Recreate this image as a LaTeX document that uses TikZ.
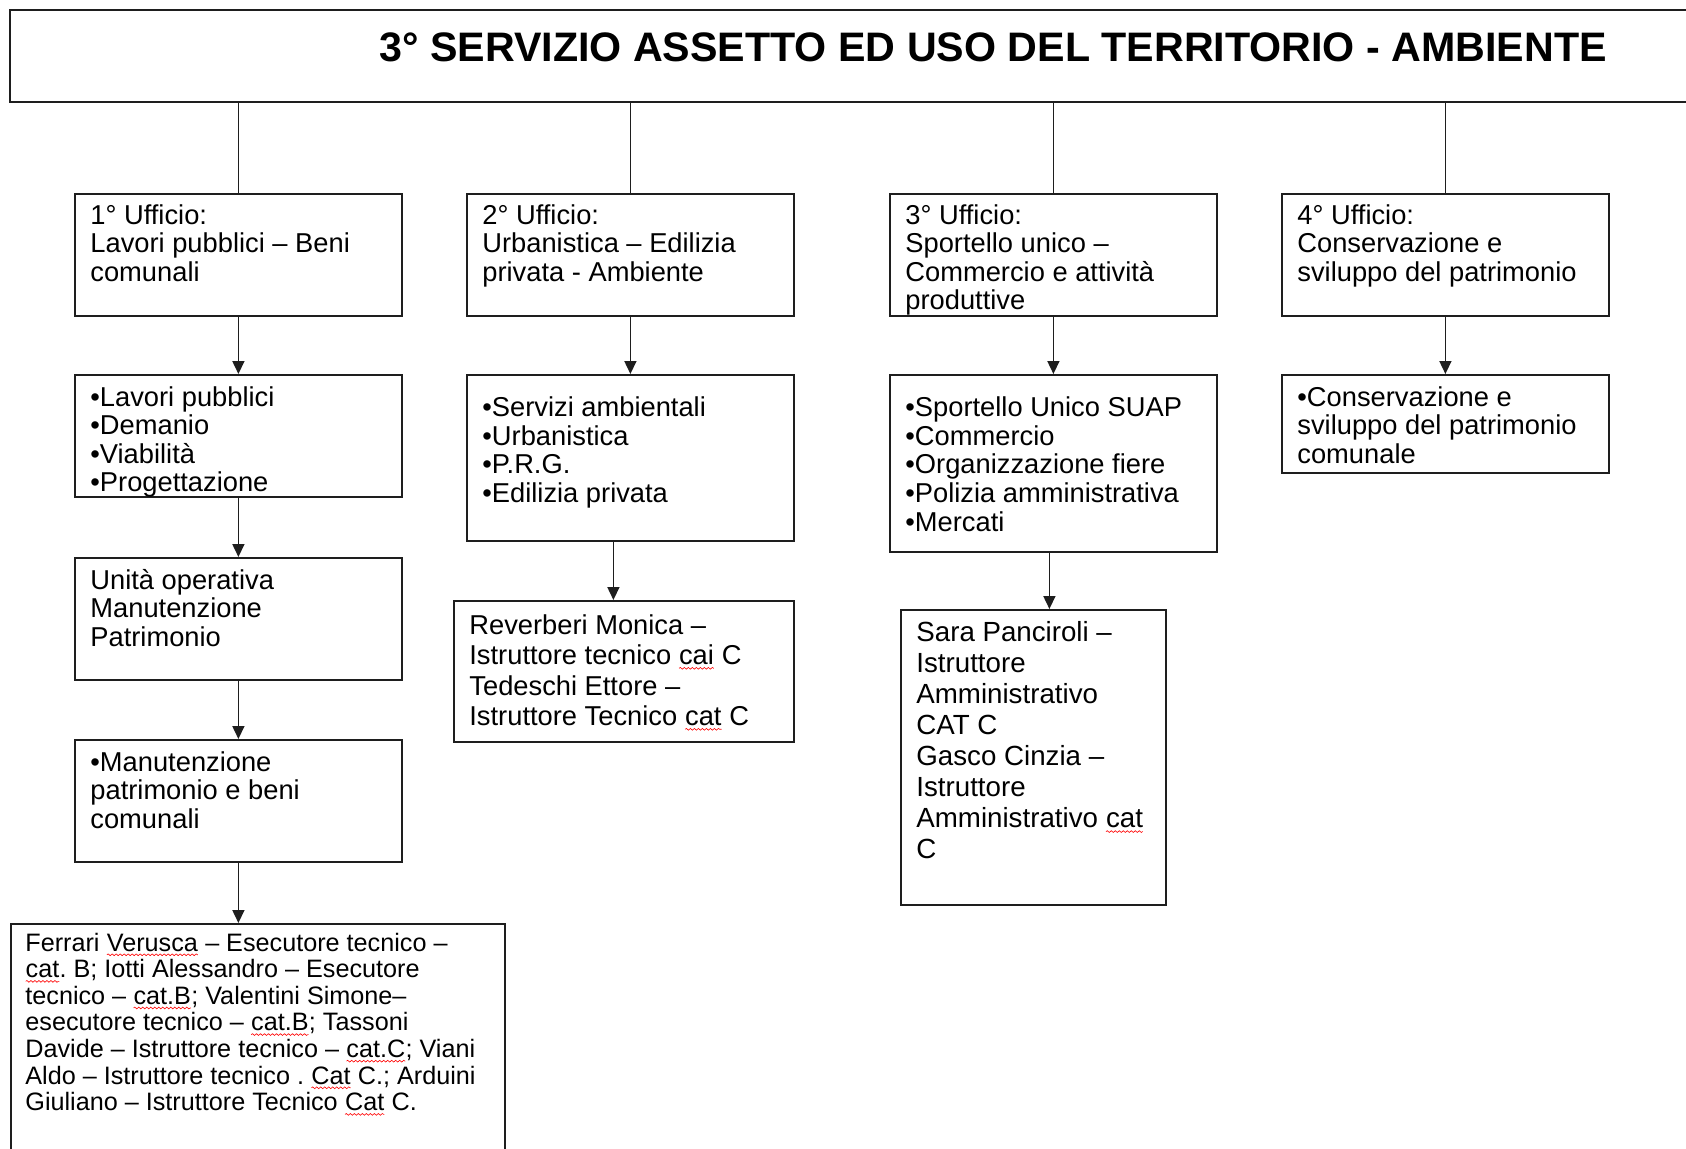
\documentclass[tikz,border=0pt]{standalone}
\usepackage{fontspec}
\setmainfont{Liberation Sans}
\usetikzlibrary{arrows.meta, decorations.pathmorphing}
\frenchspacing
\newcommand{\redwave}[1]{\tikz[baseline=(w.base)]{\node[inner sep=0pt, outer sep=0pt, anchor=base] (w) {#1};
	\draw[red, line width=0.3pt, decorate, decoration={snake, amplitude=0.45pt, segment length=2pt}] ([yshift=-1.8pt]w.base west) -- ([yshift=-1.8pt]w.base east);}}

\begin{document}
\begin{tikzpicture}[x=0.5pt, y=-0.5pt,
		box/.style 2 args={draw=framecolor, line width=0.9pt, anchor=north west, inner sep=0pt, minimum width=#1*0.5pt, minimum height=#2*0.5pt},
		txt/.style={anchor=north west, inner sep=0pt, align=left, font=\fontsize{13.65}{14.3}\selectfont},
		link/.style={draw=framecolor, line width=0.8pt},
		arr/.style={link, -{Triangle[length=6.5pt, width=6pt]}}]
		% Define colors
		\definecolor{framecolor}{RGB}{30,30,30}
		\clip (0,0) rectangle (1686,1148);
		% Header
		\node[box={1700}{92}] (head) at (9,9) {};
		\node[anchor=base, font=\fontsize{20.6}{24}\selectfont\bfseries] (title) at (993,61) {3° SERVIZIO ASSETTO ED USO DEL TERRITORIO - AMBIENTE};
		% Offices
		\node[box={327}{122}] (u1) at (74,193) {};
		\node[box={327}{122}] (u2) at (466,193) {};
		\node[box={327}{122}] (u3) at (889,193) {};
		\node[box={327}{122}] (u4) at (1281,193) {};
		\node[txt] (u1t) at ([shift={(16,11)}]u1.north west) {1° Ufficio:\\Lavori pubblici – Beni\\comunali};
		\node[txt] (u2t) at ([shift={(16,11)}]u2.north west) {2° Ufficio:\\Urbanistica – Edilizia\\privata - Ambiente};
		\node[txt] (u3t) at ([shift={(16,11)}]u3.north west) {3° Ufficio:\\Sportello unico –\\Commercio e attività\\produttive};
		\node[txt] (u4t) at ([shift={(16,11)}]u4.north west) {4° Ufficio:\\Conservazione e\\sviluppo del patrimonio};
		% Services
		\node[box={327}{122}] (s1) at (74,374) {};
		\node[box={327}{166}] (s2) at (466,374) {};
		\node[box={327}{177}] (s3) at (889,374) {};
		\node[box={327}{98}] (s4) at (1281,374) {};
		\node[txt] (s1t) at ([shift={(16,12)}]s1.north west) {•Lavori pubblici\\•Demanio\\•Viabilità\\•Progettazione};
		\node[txt] (s2t) at ([shift={(16,22.5)}]s2.north west) {•Servizi ambientali\\•Urbanistica\\•P.R.G.\\•Edilizia privata};
		\node[txt] (s3t) at ([shift={(16,22.5)}]s3.north west) {•Sportello Unico SUAP\\•Commercio\\•Organizzazione fiere\\•Polizia amministrativa\\•Mercati};
		\node[txt] (s4t) at ([shift={(16,12)}]s4.north west) {•Conservazione e\\sviluppo del patrimonio\\comunale};
		% Maintenance unit
		\node[box={327}{122}] (op1) at (74,557) {};
		\node[txt] (op1t) at ([shift={(16,11.5)}]op1.north west) {Unità operativa\\Manutenzione\\Patrimonio};
		\node[box={327}{122}] (mt1) at (74,739) {};
		\node[txt] (mt1t) at ([shift={(16,12)}]mt1.north west) {•Manutenzione\\patrimonio e beni\\comunali};
		% Staff
		\node[box={494}{260}] (st1) at (10,923) {};
		\node[txt, font=\fontsize{12.6}{13.3}\selectfont] (st1t) at ([shift={(15,9.5)}]st1.north west) {Ferrari \redwave{Verusca} – Esecutore tecnico –\\\redwave{cat}. B; Iotti Alessandro – Esecutore\\tecnico – \redwave{cat.B}; Valentini Simone–\\esecutore tecnico – \redwave{cat.B}; Tassoni\\Davide – Istruttore tecnico – \redwave{cat.C}; Viani\\Aldo – Istruttore tecnico . \redwave{Cat} C.; Arduini\\Giuliano – Istruttore Tecnico \redwave{Cat} C.};
		\node[box={340}{141}] (st2) at (453,600) {};
		\node[txt, font=\fontsize{13.65}{15.25}\selectfont] (st2t) at ([shift={(16,14)}]st2.north west) {Reverberi Monica –\\Istruttore tecnico \redwave{cai} C\\Tedeschi Ettore –\\Istruttore Tecnico \redwave{cat} C};
		\node[box={265}{295}] (st3) at (900,609) {};
		\node[txt, font=\fontsize{13.85}{15.5}\selectfont] (st3t) at ([shift={(16,12.5)}]st3.north west) {Sara Panciroli –\\Istruttore\\Amministrativo\\CAT C\\Gasco Cinzia –\\Istruttore\\Amministrativo \redwave{cat}\\C};
		% Connectors
		\foreach \u in {u1,u2,u3,u4}
			\draw[link] (\u.north |- head.south) -- (\u.north);
		\foreach \a/\b in {u1/s1,u2/s2,u3/s3,u4/s4,s1/op1,op1/mt1,mt1/st1}
			\draw[arr] (\a.south) -- (\a.south |- \b.north);
		\draw[arr] ([xshift=-8.5pt]s2.south) -- ([xshift=-8.5pt]s2.south |- st2.north);
		\draw[arr] ([xshift=-2pt]s3.south) -- ([xshift=-2pt]s3.south |- st3.north);
	\end{tikzpicture}
\end{document}
